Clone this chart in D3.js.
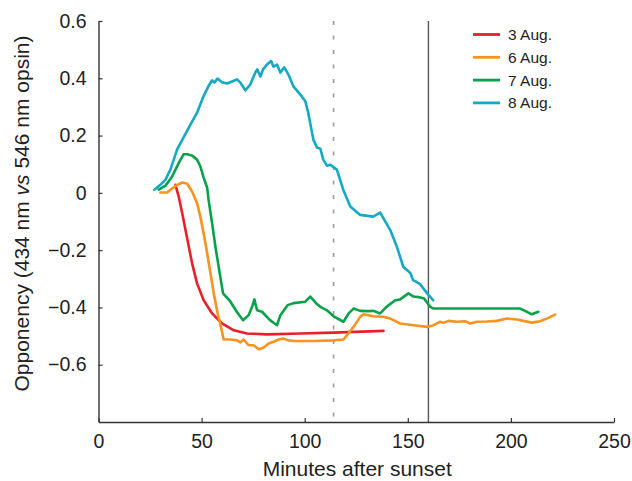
<!DOCTYPE html>
<html>
<head>
<meta charset="utf-8">
<script src="https://cdn.jsdelivr.net/npm/d3@7"></script>
<style>
  body { margin: 0; background: #fff; }
  svg { display: block; font-family: "Liberation Sans", Arial, Helvetica, sans-serif; }
</style>
</head>
<body>
<div id="chart"></div>
<script>
// ---- data (minutes after sunset, opponency) ----
const seriesNames = ["3 Aug.", "6 Aug.", "7 Aug.", "8 Aug."];
const seriesColors = ["#e8202a", "#f7931e", "#0aa14b", "#15a9c3"];

const aug3 = [
  [37.3, 0.028], [38.9, -0.013], [40.6, -0.071], [42.2, -0.130], [43.8, -0.188],
  [45.4, -0.246], [47.8, -0.316], [51.0, -0.375], [55.1, -0.421], [59.9, -0.456],
  [65.6, -0.480], [72.0, -0.491], [81.7, -0.494], [97.9, -0.491], [114.0, -0.488],
  [138.2, -0.482]
];

const aug6 = [
  [30.0, 0.001], [33.3, 0.001], [34.9, 0.011], [38.1, 0.028], [40.6, 0.036],
  [43.0, 0.032], [45.4, 0.005], [47.8, -0.036], [49.4, -0.083], [51.0, -0.141],
  [52.7, -0.211], [54.3, -0.281], [55.9, -0.351], [57.8, -0.421], [59.4, -0.468],
  [60.7, -0.512], [64.0, -0.512], [67.2, -0.515], [68.8, -0.522], [70.4, -0.512],
  [72.8, -0.532], [75.2, -0.532], [77.7, -0.546], [80.1, -0.540], [82.5, -0.526],
  [84.9, -0.520], [87.4, -0.512], [89.8, -0.509], [92.2, -0.515], [94.6, -0.517],
  [104.3, -0.517], [114.0, -0.515], [118.8, -0.512], [120.5, -0.497], [123.7, -0.468],
  [126.9, -0.433], [128.5, -0.424], [133.4, -0.431], [138.2, -0.433], [141.5, -0.439],
  [146.3, -0.456], [152.8, -0.462], [159.3, -0.468], [162.5, -0.462], [165.7, -0.450],
  [167.3, -0.454], [169.7, -0.447], [173.8, -0.450], [177.8, -0.448], [180.2, -0.456],
  [183.5, -0.450], [188.3, -0.449], [193.2, -0.447], [198.0, -0.439], [202.9, -0.442],
  [206.1, -0.447], [210.1, -0.453], [214.1, -0.448], [217.4, -0.439], [221.4, -0.425]
];

const aug7 = [
  [29.2, 0.011], [32.5, 0.025], [35.7, 0.057], [38.9, 0.104], [41.3, 0.135],
  [43.1, 0.135], [45.4, 0.130], [47.8, 0.116], [49.4, 0.092], [51.0, 0.053],
  [52.7, 0.018], [53.4, -0.025], [55.1, -0.106], [56.7, -0.188], [58.8, -0.281],
  [60.4, -0.351], [64.0, -0.380], [67.2, -0.417], [70.1, -0.445], [72.8, -0.427],
  [74.5, -0.398], [75.6, -0.372], [76.9, -0.410], [79.3, -0.415], [83.3, -0.445],
  [86.6, -0.462], [88.2, -0.427], [91.7, -0.392], [94.6, -0.385], [100.3, -0.380],
  [102.7, -0.362], [105.6, -0.386], [107.6, -0.398], [110.8, -0.410], [114.0, -0.431],
  [118.8, -0.450], [121.3, -0.421], [123.7, -0.404], [126.9, -0.412], [130.8, -0.413],
  [133.4, -0.412], [136.6, -0.421], [139.5, -0.399], [143.9, -0.375], [146.3, -0.372],
  [150.3, -0.351], [152.8, -0.362], [156.0, -0.365], [157.9, -0.369], [160.9, -0.398],
  [162.5, -0.404], [204.5, -0.404], [206.9, -0.412], [210.1, -0.424], [213.3, -0.415]
];

const aug8 = [
  [27.1, 0.011], [30.0, 0.028], [32.5, 0.046], [34.9, 0.081], [38.1, 0.151],
  [41.2, 0.193], [44.6, 0.238], [47.8, 0.280], [50.9, 0.337], [53.3, 0.372],
  [55.1, 0.393], [56.2, 0.385], [57.7, 0.399], [59.9, 0.386], [62.4, 0.382],
  [67.2, 0.396], [68.8, 0.385], [71.2, 0.358], [73.6, 0.378], [76.1, 0.421],
  [77.0, 0.431], [78.5, 0.406], [79.8, 0.431], [81.7, 0.448], [83.7, 0.460],
  [84.8, 0.441], [86.6, 0.448], [88.2, 0.420], [90.1, 0.438], [92.1, 0.413],
  [94.5, 0.372], [97.9, 0.343], [100.3, 0.320], [101.7, 0.280], [104.2, 0.186],
  [106.0, 0.158], [107.6, 0.154], [109.0, 0.116], [110.8, 0.095], [112.4, 0.098],
  [115.6, 0.081], [118.7, 0.011], [122.1, -0.048], [126.9, -0.077], [133.2, -0.083],
  [136.6, -0.069], [141.5, -0.130], [144.7, -0.188], [147.8, -0.258], [151.2, -0.280],
  [152.6, -0.305], [156.0, -0.319], [159.3, -0.350], [162.3, -0.375]
];

const allSeries = [aug3, aug6, aug7, aug8];

// reference lines (minutes)
const dashedMark = 114;
const solidMark = 160;

// ticks
const xTicks = [0, 50, 100, 150, 200, 250];
const yTicks = [0.6, 0.4, 0.2, 0, -0.2, -0.4, -0.6];

// ---- layout ----
const width = 632, height = 481;
const mLeft = 98.5, mRight = 614, mTop = 21, mBottom = 422;

const x = d3.scaleLinear().domain([0, 250]).range([mLeft, mRight]);
const y = d3.scaleLinear().domain([-0.8, 0.6]).range([mBottom, mTop]);

const svg = d3.select("#chart").append("svg")
  .attr("width", width)
  .attr("height", height);

// vertical marks
svg.append("line")
  .attr("x1", x(dashedMark)).attr("x2", x(dashedMark))
  .attr("y1", y(0.6)).attr("y2", mBottom)
  .attr("stroke", "#9a9a9a").attr("stroke-width", 1.6)
  .attr("stroke-dasharray", "4,10.5");

svg.append("line")
  .attr("x1", x(solidMark)).attr("x2", x(solidMark))
  .attr("y1", y(0.6)).attr("y2", mBottom)
  .attr("stroke", "#555").attr("stroke-width", 1.4);

// axes
const fmt = d => d === 0 ? "0" : d3.format(".1f")(d);

const yAxis = svg.append("g")
  .attr("transform", `translate(${mLeft},0)`)
  .call(d3.axisLeft(y).tickValues(yTicks).tickFormat(fmt)
    .tickSizeInner(-4).tickSizeOuter(0).tickPadding(12));

const xAxis = svg.append("g")
  .attr("transform", `translate(0,${mBottom})`)
  .call(d3.axisBottom(x).tickValues(xTicks)
    .tickSizeInner(-4).tickSizeOuter(0).tickPadding(12));

[xAxis, yAxis].forEach(a => {
  a.select(".domain").attr("stroke", "#333").attr("stroke-width", 1.4);
  a.selectAll(".tick line").attr("stroke", "#333").attr("stroke-width", 1.2);
  a.selectAll(".tick text")
    .attr("fill", "#222")
    .attr("font-size", 19.5)
    .attr("font-family", "Liberation Sans, Arial, sans-serif");
});

// axis titles
svg.append("text")
  .attr("x", (mLeft + mRight) / 2 + 1)
  .attr("y", 476)
  .attr("text-anchor", "middle")
  .attr("font-size", 21)
  .attr("fill", "#222")
  .text("Minutes after sunset");

const yt = svg.append("text")
  .attr("transform", `translate(29,${(mTop + mBottom) / 2 - 8}) rotate(-90)`)
  .attr("text-anchor", "middle")
  .attr("font-size", 21)
  .attr("fill", "#222");
yt.append("tspan").text("Opponency (434 nm ");
yt.append("tspan").attr("font-style", "italic").text("vs");
yt.append("tspan").text(" 546 nm opsin)");

// lines
const line = d3.line().x(d => x(d[0])).y(d => y(d[1]));

svg.append("g")
  .selectAll("path")
  .data(allSeries)
  .enter()
  .append("path")
  .attr("d", line)
  .attr("fill", "none")
  .attr("stroke", (d, i) => seriesColors[i])
  .attr("stroke-width", 2.6)
  .attr("stroke-linejoin", "round")
  .attr("stroke-linecap", "round");

// legend
const legend = svg.append("g")
  .selectAll("g")
  .data(seriesNames)
  .enter()
  .append("g")
  .attr("transform", (d, i) => `translate(473,${34.5 + i * 22.8})`);

legend.append("line")
  .attr("x1", 0).attr("x2", 27)
  .attr("stroke", (d, i) => seriesColors[i])
  .attr("stroke-width", 2.8);

legend.append("text")
  .attr("x", 35)
  .attr("dy", "0.36em")
  .attr("font-size", 15.5)
  .attr("fill", "#222")
  .text(d => d);
</script>
</body>
</html>
